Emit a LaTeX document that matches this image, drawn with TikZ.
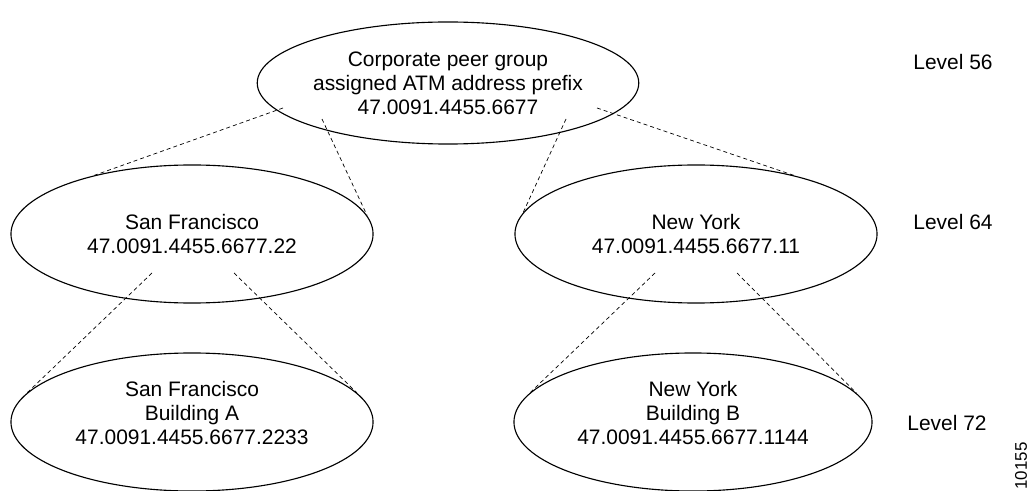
\documentclass[tikz,border=0pt]{standalone}
\usepackage{fontspec}
\setmainfont{Liberation Sans}
\usetikzlibrary{shapes.geometric,calc}

\begin{document}
\begin{tikzpicture}[
  x=0.025cm, y=-0.025cm,
  font=\fontsize{14.9}{17.2}\selectfont,
  site/.style={draw, ellipse, inner sep=0pt, line width=0.8pt, minimum width=9.05cm, minimum height=3.45cm, align=center},
  sitetext/.style={align=center, inner sep=0pt},
  level/.style={inner sep=0pt},
  link/.style={dash pattern=on 2.8pt off 2.2pt, line width=0.5pt}
]
\useasboundingbox (0,0) rectangle (1030,491);

\node[site, minimum width=9.15cm, minimum height=3.05cm] (corp) at (448,83) {Corporate peer group\\assigned ATM address prefix\\47.0091.4455.6677};
\node[site] (sf) at (192,234) {San Francisco\\47.0091.4455.6677.22};
\node[site] (ny) at (696,234) {New York\\47.0091.4455.6677.11};
\node[site, label={[sitetext, name=sfa-t, yshift=0.225cm]center:San Francisco\\Building A\\47.0091.4455.6677.2233}] (sfa) at (192,422) {};
\node[site, minimum width=8.95cm, label={[sitetext, name=nyb-t, yshift=0.225cm]center:New York\\Building B\\47.0091.4455.6677.1144}] (nyb) at (693,422) {};

\node[level] (lv56) at (953,62) {Level 56};
\node[level] (lv64) at (953,222) {Level 64};
\node[level] (lv72) at (947,423) {Level 72};
\node[level, rotate=90, font=\fontsize{12}{14}\selectfont] (fig) at (1021,466) {10155};

% start points of the dashed links
\coordinate (corp-a) at ($(corp)+(-165,25)$);
\coordinate (corp-b) at ($(corp)+(-126,36)$);
\coordinate (corp-c) at ($(corp)+(118,36)$);
\coordinate (corp-d) at ($(corp)+(149,25)$);
\coordinate (sf-a) at ($(sf)+(-40,39)$);
\coordinate (sf-b) at ($(sf)+(42,39)$);
\coordinate (ny-a) at ($(ny)+(-41,39)$);
\coordinate (ny-b) at ($(ny)+(41,39)$);

\draw[link] (corp-a) -- (sf.149);
\draw[link] (corp-b) -- (sf.6);
\draw[link] (corp-c) -- (ny.173);
\draw[link] (corp-d) -- (ny.31);

\draw[link] (sf-a) -- (sfa.170);
\draw[link] (sf-b) -- (sfa.10);
\draw[link] (ny-a) -- (nyb.170);
\draw[link] (ny-b) -- (nyb.10);
\end{tikzpicture}
\end{document}
